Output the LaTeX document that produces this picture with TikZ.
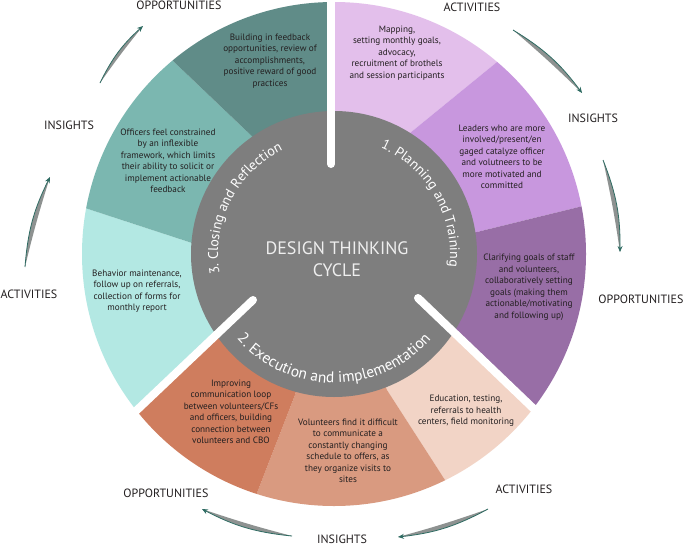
\documentclass[tikz,border=0pt]{standalone}
\usepackage{fontspec}
\setmainfont{PT Sans}
\usetikzlibrary{calc,decorations.text,arrows.meta}
\definecolor{lavL}{HTML}{E3BFEB}
\definecolor{lavM}{HTML}{C897DE}
\definecolor{lavD}{HTML}{986EA6}
\definecolor{peach}{HTML}{F2D4C6}
\definecolor{salmon}{HTML}{D99A80}
\definecolor{rust}{HTML}{CF7D5E}
\definecolor{tealL}{HTML}{B3E8E3}
\definecolor{tealM}{HTML}{7BB7B0}
\definecolor{tealD}{HTML}{608C88}
\definecolor{disc}{HTML}{7E7E7E}
\definecolor{arrowteal}{HTML}{2E6B62}
\definecolor{arrowgray}{HTML}{8E9291}
\definecolor{ink}{HTML}{231F20}
\definecolor{ctext}{HTML}{EEEEEE}
\tikzset{
  wtext/.style={align=center, font=\fontsize{9.2}{11.5}\selectfont, text=ink, inner sep=0pt},
  lab/.style={font=\fontsize{12}{12}\selectfont, text=ink, inner sep=0pt},
  bar/.style={draw=white, line width=8pt, line cap=round},
  arrowbody/.style={fill=arrowgray},
  arrowedge/.style={draw=arrowteal, line width=0.8pt, -{Stealth[length=6pt,width=5pt]}},
}
\begin{document}
\begin{tikzpicture}[x=1pt,y=1pt]
\fill[white] (0,0) rectangle (685,-546);
\useasboundingbox (0,0) rectangle (685,-546);
\coordinate (C) at (334,-254);
% boundaries
\coordinate (tb1) at (331,-164); \coordinate (tb2) at (331,-2);
\coordinate (b1i) at (410,-133); \coordinate (b1o) at (497,-62);
\coordinate (b2i) at (477,-232); \coordinate (b2o) at (583,-206);
\coordinate (rb1) at (418,-298); \coordinate (rb2) at (535,-410);
\coordinate (b3i) at (387,-390); \coordinate (b3o) at (445,-480);
\coordinate (b4i) at (295,-395); \coordinate (b4o) at (257,-493);
\coordinate (lb1) at (253,-300); \coordinate (lb2) at (137,-410);
\coordinate (b5i) at (192,-243); \coordinate (b5o) at (85,-208);
\coordinate (b6i) at (258,-142); \coordinate (b6o) at (172,-60);
\begin{scope}
\clip (C) circle[radius=252];
\fill[lavL] (C) -- (tb1) -- ($(tb1)!3!(tb2)$) -- ($(C)+(70:700)$) -- ($(b1i)!3!(b1o)$) -- (b1i) -- cycle;
\fill[lavM] (C) -- (b1i) -- ($(b1i)!3!(b1o)$) -- ($(C)+(30:700)$) -- ($(b2i)!3!(b2o)$) -- (b2i) -- cycle;
\fill[lavD] (C) -- (b2i) -- ($(b2i)!3!(b2o)$) -- ($(C)+(-13:700)$) -- ($(rb1)!3!(rb2)$) -- (rb1) -- cycle;
\fill[peach] (C) -- (rb1) -- ($(rb1)!3!(rb2)$) -- ($(C)+(-51:700)$) -- ($(b3i)!3!(b3o)$) -- (b3i) -- cycle;
\fill[salmon] (C) -- (b3i) -- ($(b3i)!3!(b3o)$) -- ($(C)+(-86:700)$) -- ($(b4i)!3!(b4o)$) -- (b4i) -- cycle;
\fill[rust] (C) -- (b4i) -- ($(b4i)!3!(b4o)$) -- ($(C)+(-125:700)$) -- ($(lb1)!3!(lb2)$) -- (lb1) -- cycle;
\fill[tealL] (C) -- (lb1) -- ($(lb1)!3!(lb2)$) -- ($(C)+(-166:700)$) -- ($(b5i)!3!(b5o)$) -- (b5i) -- cycle;
\fill[tealM] (C) -- (b5i) -- ($(b5i)!3!(b5o)$) -- ($(C)+(150:700)$) -- ($(b6i)!3!(b6o)$) -- (b6i) -- cycle;
\fill[tealD] (C) -- (b6i) -- ($(b6i)!3!(b6o)$) -- ($(C)+(110:700)$) -- ($(tb1)!3!(tb2)$) -- (tb1) -- cycle;
\end{scope}
\fill[disc] (C) circle[radius=143];
\draw[bar] (tb1) -- (tb2);
\draw[bar] (rb1) -- ($(rb1)!1.02!(rb2)$);
\draw[bar] (lb1) -- ($(lb1)!1.02!(lb2)$);
% centre text
\node[align=center, font=\fontsize{18}{22}\selectfont, text=ctext, inner sep=0pt] (title) at (337,-259) {DESIGN THINKING\\CYCLE};
% curved texts
\path[decorate, decoration={text along path, text align=center, text color=white,
  text={|\fontsize{14}{14}\selectfont|1. Planning and Training}}]
  ($(C)+(75:116)$) arc[start angle=75, end angle=-15, radius=116];
\path[decorate, decoration={text along path, text align=center, text color=white,
  text={|\fontsize{14}{14}\selectfont|3. Closing and Reflection}}]
  ($(C)+(198:116)$) arc[start angle=198, end angle=108, radius=116];
\path[decorate, decoration={text along path, text align=center, text color=white,
  text={|\fontsize{15.5}{15.5}\selectfont|2. Execution and implementation}}]
  ($(C)+(-150:129)$) arc[start angle=-150, end angle=-30, radius=129];
% wedge texts
\node[wtext] (t1) at (397,-53) {Mapping,\\setting monthly goals,\\advocacy,\\recruitment of brothels\\and session participants};
\node[wtext] (t2) at (502,-157) {Leaders who are more\\involved/present/en\\gaged catalyze officer\\and volutneers to be\\more motivated and\\committed};
\node[wtext] (t3) at (529,-287) {Clarifying goals of staff\\and volunteers,\\collaboratively setting\\goals (making them\\actionable/motivating\\and following up)};
\node[wtext] (t4) at (466,-411) {Education, testing,\\referrals to health\\centers, field monitoring};
\node[wtext] (t5) at (348,-451) {Volunteers find it difficult\\to communicate a\\constantly changing\\schedule to offers, as\\they organize visits to\\sites};
\node[wtext] (t6) at (231,-412) {Improving\\communication loop\\between volunteers/CFs\\and officers, building\\connection between\\volunteers and CBO};
\node[wtext] (t7) at (137,-291) {Behavior maintenance,\\follow up on referrals,\\collection of forms for\\monthly report};
\node[wtext] (t8) at (168,-161) {Officers feel constrained\\by an inflexible\\framework, which limits\\their ability to solicit or\\implement actionable\\feedback};
\node[wtext] (t9) at (270,-61) {Building in feedback\\opportunities, review of\\accomplishments,\\positive reward of good\\practices};
% outer labels
\node[lab] (l1) at (472,-7) {ACTIVITIES};
\node[lab] (l2) at (593,-118) {INSIGHTS};
\node[lab] (l3) at (641,-299) {OPPORTUNITIES};
\node[lab] (l4) at (524,-489) {ACTIVITIES};
\node[lab] (l5) at (342,-539) {INSIGHTS};
\node[lab] (l6) at (166,-493) {OPPORTUNITIES};
\node[lab] (l7) at (29,-294) {ACTIVITIES};
\node[lab] (l8) at (69,-125) {INSIGHTS};
\node[lab] (l9) at (179,-5) {OPPORTUNITIES};
% arrows
\coordinate (a1t) at (513,-30);  \coordinate (a1h) at (582,-93);
\coordinate (a2t) at (603,-160); \coordinate (a2h) at (620,-252);
\coordinate (a3t) at (488,-509); \coordinate (a3h) at (398,-537);
\coordinate (a4t) at (292,-536); \coordinate (a4h) at (202,-509);
\coordinate (a5t) at (25,-267);  \coordinate (a5h) at (50,-177);
\coordinate (a6t) at (100,-83);  \coordinate (a6h) at (143,-26);
\foreach \i in {1,...,6}{
  \fill[arrowbody] (a\i t) to[bend left=11] (a\i h) to[bend right=2] (a\i t);
  \draw[arrowedge] (a\i t) to[bend left=11] (a\i h);
}
\end{tikzpicture}
\end{document}
